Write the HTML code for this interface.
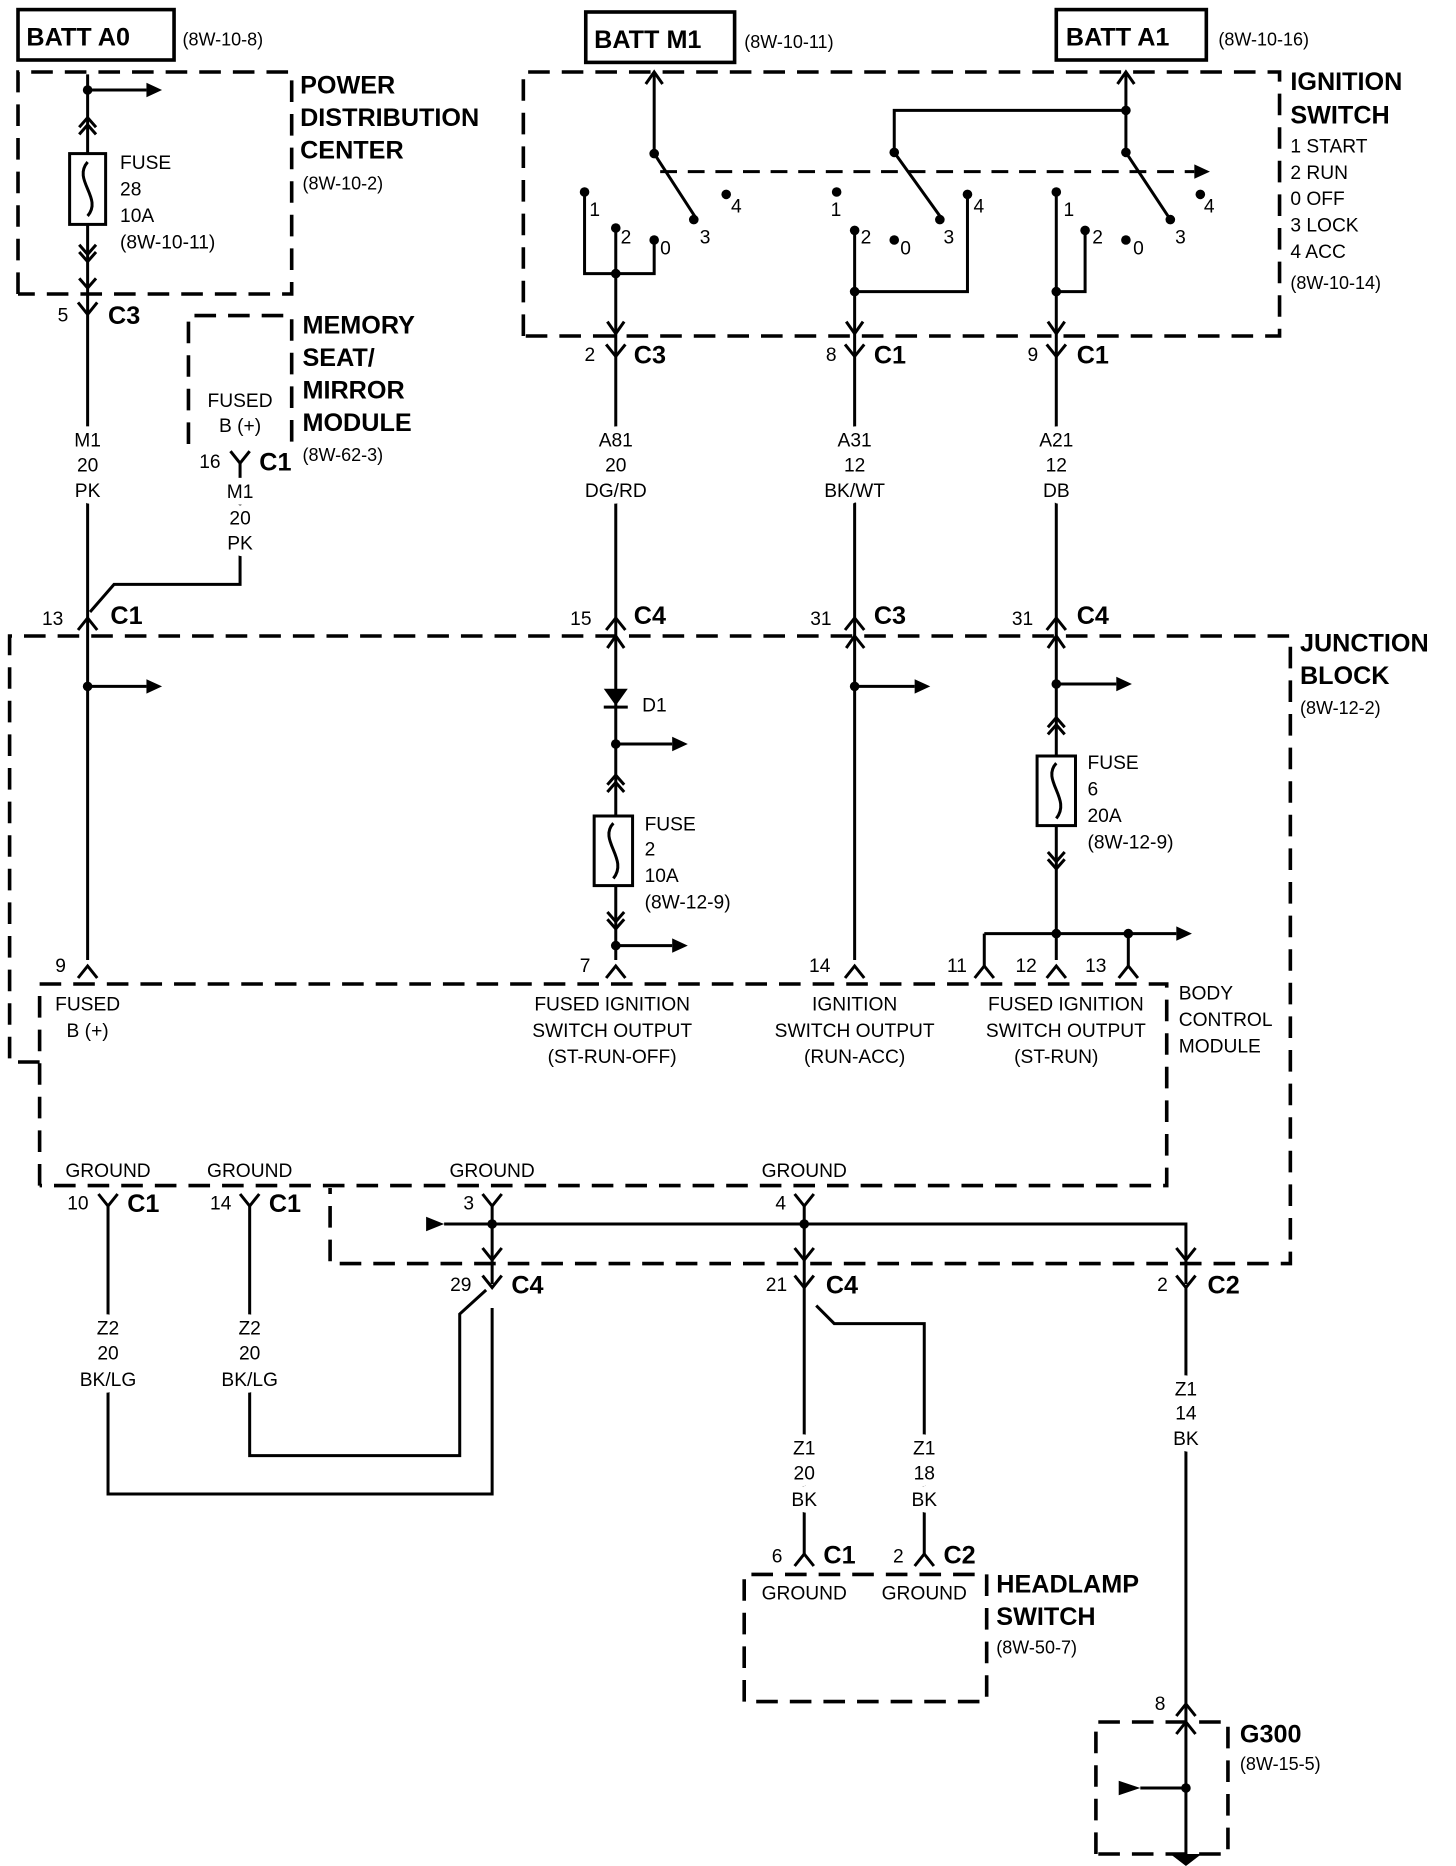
<!DOCTYPE html>
<html><head><meta charset="utf-8"><style>
html,body{margin:0;padding:0;background:#fff}
svg{display:block}
text{font-family:"Liberation Sans Narrow","Liberation Sans",sans-serif;fill:#000}
.b{font-weight:bold;font-size:21px}
.s{font-size:15px}
.m{font-size:16px}
.c{text-anchor:middle}
.w{stroke:#fff;stroke-width:11px;paint-order:stroke;stroke-linejoin:round}
</style></head><body>
<svg width="1456" height="1866" viewBox="0 0 1213 1555" preserveAspectRatio="none" xmlns="http://www.w3.org/2000/svg">
<g fill="none" stroke="#000" stroke-width="2.5">
<rect x="15" y="8" width="130" height="42" stroke-width="3"/>
<rect x="488" y="10" width="124" height="42" stroke-width="3"/>
<rect x="880" y="8" width="125" height="42" stroke-width="3"/>
<g stroke-dasharray="18,10" stroke-width="3">
<path d="M15 245 V60 H243 V245 H15"/>
<path d="M157 370 V263 H243 V370"/>
<path d="M436 280 V60 H1066 V280 H436"/>
<path d="M33 885 H8 V530 H1075 V1053 H275 V990"/>
<path d="M33 988 V820 H972 V988 H33"/>
<path d="M620 1418 V1312 H822 V1418 H620"/>
<path d="M913 1545 V1435 H1023 V1545 H913"/>
</g>
<path d="M73 62 V800"/>
<path d="M73 75 H122"/>
<rect x="58" y="128" width="30" height="59" fill="#fff"/>
<path d="M73 135 C60 150 86 165 73 180"/>
<path d="M66 106 L73 98 L80 106 M66 112 L73 104 L80 112"/>
<path d="M66 204 L73 212 L80 204 M66 210 L73 218 L80 210"/>
<path d="M66 232 L73 240 L80 232"/>
<path d="M65 252 L73 262 L81 252"/>
<path d="M192 376 L200 386 L208 376"/>
<path d="M200 386 V487 H95 L75 510"/>
<path d="M65 525 L73 515 L81 525"/>
<path d="M545 60 V128 L580 182"/>
<path d="M538 70 L545 60 L552 70"/>
<path d="M550 143 H995" stroke-dasharray="14,9"/>
<path d="M938 60 V127 L975 183"/>
<path d="M931 70 L938 60 L945 70"/>
<path d="M938 92 H745 V127 L783 180"/>
<path d="M487 160 V228 H545 V200"/>
<path d="M513 190 V297"/>
<path d="M712 192 V297"/>
<path d="M712 243 H806 V162"/>
<path d="M880 160 V297"/>
<path d="M880 243 H904 V192"/>
<path d="M506 268 L513 278 L520 268 M705 268 L712 278 L719 268 M873 268 L880 278 L887 268"/>
<path d="M505 287 L513 297 L521 287 M704 287 L712 297 L720 287 M872 287 L880 297 L888 287"/>
<path d="M513 297 V800 M712 297 V800 M880 297 V800"/>
<path d="M505 525 L513 515 L521 525 M704 525 L712 515 L720 525 M872 525 L880 515 L888 525"/>
<path d="M506 540 L513 530 L520 540 M705 540 L712 530 L720 540 M873 540 L880 530 L887 540"/>
<path d="M73 572 H122 M712 572 H762 M880 570 H930 M513 620 H560 M513 788 H560 M820 778 H980"/>
<path d="M820 778 V805 M940 778 V805"/>
<rect x="495" y="680" width="32" height="58" fill="#fff"/>
<path d="M511 686 C498 700 524 716 511 732"/>
<rect x="864" y="630" width="32" height="58" fill="#fff"/>
<path d="M880 636 C867 650 893 666 880 682"/>
<path d="M506 654 L513 646 L520 654 M506 660 L513 652 L520 660 M506 760 L513 768 L520 760 M506 766 L513 774 L520 766"/>
<path d="M873 606 L880 598 L887 606 M873 612 L880 604 L887 612 M873 710 L880 718 L887 710 M873 716 L880 724 L887 716"/>
<path d="M65 815 L73 805 L81 815 M505 815 L513 805 L521 815 M704 815 L712 805 L720 815 M812 815 L820 805 L828 815 M872 815 L880 805 L888 815 M932 815 L940 805 L948 815"/>
<path d="M82 995 L90 1005 L98 995 M200 995 L208 1005 L216 995 M402 995 L410 1005 L418 995 M662 995 L670 1005 L678 995"/>
<path d="M90 1005 V1245 H410 V1090 M208 1005 V1213 H383 V1095 L405 1075"/>
<path d="M410 1005 V1070 M670 1005 V1295 M370 1020 H988 V1070"/>
<path d="M402 1040 L410 1050 L418 1040 M662 1040 L670 1050 L678 1040 M980 1040 L988 1050 L996 1040"/>
<path d="M402 1063 L410 1073 L418 1063 M662 1063 L670 1073 L678 1063 M980 1063 L988 1073 L996 1063"/>
<path d="M680 1088 L695 1103 H770 V1295"/>
<path d="M988 1073 V1545"/>
<path d="M662 1305 L670 1295 L678 1305 M762 1305 L770 1295 L778 1305 M980 1430 L988 1420 L996 1430 M980 1445 L988 1435 L996 1445"/>
<path d="M950 1490 H988"/>
</g>
<g fill="#000">
<path d="M122 69 L135 75 L122 81Z M122 566 L135 572 L122 578Z M762 566 L775 572 L762 578Z M930 564 L943 570 L930 576Z M560 614 L573 620 L560 626Z M560 782 L573 788 L560 794Z M980 772 L993 778 L980 784Z M995 137 L1008 143 L995 149Z M355 1014 L370 1020 L355 1026Z M932 1484 L950 1490 L932 1496Z"/>
<path d="M503 574 H523 L513 588Z"/><rect x="503" y="588" width="20" height="2.5"/>
<path d="M975 1545 H1001 L988 1555Z"/>
<circle cx="73" cy="75" r="4"/><circle cx="73" cy="572" r="4"/>
<circle cx="545" cy="128" r="4"/><circle cx="938" cy="92" r="4"/><circle cx="745" cy="127" r="4"/><circle cx="938" cy="127" r="4"/>
<circle cx="487" cy="160" r="4"/><circle cx="513" cy="190" r="4"/><circle cx="545" cy="200" r="4"/><circle cx="578" cy="183" r="4"/><circle cx="605" cy="162" r="4"/><circle cx="513" cy="228" r="4"/>
<circle cx="697" cy="160" r="4"/><circle cx="712" cy="192" r="4"/><circle cx="745" cy="200" r="4"/><circle cx="783" cy="183" r="4"/><circle cx="806" cy="162" r="4"/><circle cx="712" cy="243" r="4"/>
<circle cx="880" cy="160" r="4"/><circle cx="904" cy="192" r="4"/><circle cx="938" cy="200" r="4"/><circle cx="975" cy="183" r="4"/><circle cx="1000" cy="162" r="4"/><circle cx="880" cy="243" r="4"/>
<circle cx="712" cy="572" r="4"/><circle cx="880" cy="570" r="4"/><circle cx="513" cy="620" r="4"/><circle cx="513" cy="788" r="4"/><circle cx="880" cy="778" r="4"/><circle cx="940" cy="778" r="4"/>
<circle cx="410" cy="1020" r="4"/><circle cx="670" cy="1020" r="4"/><circle cx="988" cy="1490" r="4"/>
</g>
<text class="b" x="22" y="38">BATT A0</text><text class="s" x="152" y="38">(8W-10-8)</text>
<text class="b" x="495" y="40">BATT M1</text><text class="s" x="620" y="40">(8W-10-11)</text>
<text class="b" x="888" y="38">BATT A1</text><text class="s" x="1015" y="38">(8W-10-16)</text>
<text class="b" x="250" y="78">POWER</text><text class="b" x="250" y="105">DISTRIBUTION</text><text class="b" x="250" y="132">CENTER</text><text class="s" x="252" y="158">(8W-10-2)</text>
<text class="m" x="100" y="141">FUSE</text><text class="m" x="100" y="163">28</text><text class="m" x="100" y="185">10A</text><text class="m" x="100" y="207">(8W-10-11)</text>
<text class="m" x="48" y="268">5</text><text class="b" x="90" y="270">C3</text>
<text class="b" x="252" y="278">MEMORY</text><text class="b" x="252" y="305">SEAT/</text><text class="b" x="252" y="332">MIRROR</text><text class="b" x="252" y="359">MODULE</text><text class="s" x="252" y="384">(8W-62-3)</text>
<text class="m c" x="200" y="339">FUSED</text><text class="m c" x="200" y="360">B (+)</text>
<text class="m" x="166" y="390">16</text><text class="b" x="216" y="392">C1</text>
<text class="m c w" x="73" y="372">M1</text><text class="m c w" x="73" y="393">20</text><text class="m c w" x="73" y="414">PK</text>
<text class="m c w" x="200" y="415">M1</text><text class="m c w" x="200" y="437">20</text><text class="m c w" x="200" y="458">PK</text>
<text class="m" x="35" y="521">13</text><text class="b" x="92" y="520">C1</text>
<text class="b" x="1075" y="75">IGNITION</text><text class="b" x="1075" y="103">SWITCH</text>
<text class="m" x="1075" y="127">1 START</text><text class="m" x="1075" y="149">2 RUN</text><text class="m" x="1075" y="171">0 OFF</text><text class="m" x="1075" y="193">3 LOCK</text><text class="m" x="1075" y="215">4 ACC</text><text class="s" x="1075" y="241">(8W-10-14)</text>
<text class="m" x="491" y="180">1</text><text class="m" x="517" y="203">2</text><text class="m" x="550" y="212">0</text><text class="m" x="583" y="203">3</text><text class="m" x="609" y="177">4</text>
<text class="m" x="692" y="180">1</text><text class="m" x="717" y="203">2</text><text class="m" x="750" y="212">0</text><text class="m" x="786" y="203">3</text><text class="m" x="811" y="177">4</text>
<text class="m" x="886" y="180">1</text><text class="m" x="910" y="203">2</text><text class="m" x="944" y="212">0</text><text class="m" x="979" y="203">3</text><text class="m" x="1003" y="177">4</text>
<text class="m" x="487" y="301">2</text><text class="b" x="528" y="303">C3</text>
<text class="m" x="688" y="301">8</text><text class="b" x="728" y="303">C1</text>
<text class="m" x="856" y="301">9</text><text class="b" x="897" y="303">C1</text>
<text class="m c w" x="513" y="372">A81</text><text class="m c w" x="513" y="393">20</text><text class="m c w" x="513" y="414">DG/RD</text>
<text class="m c w" x="712" y="372">A31</text><text class="m c w" x="712" y="393">12</text><text class="m c w" x="712" y="414">BK/WT</text>
<text class="m c w" x="880" y="372">A21</text><text class="m c w" x="880" y="393">12</text><text class="m c w" x="880" y="414">DB</text>
<text class="m" x="475" y="521">15</text><text class="b" x="528" y="520">C4</text>
<text class="m" x="675" y="521">31</text><text class="b" x="728" y="520">C3</text>
<text class="m" x="843" y="521">31</text><text class="b" x="897" y="520">C4</text>
<text class="b" x="1083" y="543">JUNCTION</text><text class="b" x="1083" y="570">BLOCK</text><text class="s" x="1083" y="595">(8W-12-2)</text>
<text class="m" x="535" y="593">D1</text>
<text class="m" x="537" y="692">FUSE</text><text class="m" x="537" y="713">2</text><text class="m" x="537" y="735">10A</text><text class="m" x="537" y="757">(8W-12-9)</text>
<text class="m" x="906" y="641">FUSE</text><text class="m" x="906" y="663">6</text><text class="m" x="906" y="685">20A</text><text class="m" x="906" y="707">(8W-12-9)</text>
<text class="m" x="46" y="810">9</text><text class="m" x="483" y="810">7</text><text class="m" x="674" y="810">14</text><text class="m" x="789" y="810">11</text><text class="m" x="846" y="810">12</text><text class="m" x="904" y="810">13</text>
<text class="m c" x="73" y="842">FUSED</text><text class="m c" x="73" y="864">B (+)</text>
<text class="m c" x="510" y="842">FUSED IGNITION</text><text class="m c" x="510" y="864">SWITCH OUTPUT</text><text class="m c" x="510" y="886">(ST-RUN-OFF)</text>
<text class="m c" x="712" y="842">IGNITION</text><text class="m c" x="712" y="864">SWITCH OUTPUT</text><text class="m c" x="712" y="886">(RUN-ACC)</text>
<text class="m c" x="888" y="842">FUSED IGNITION</text><text class="m c" x="888" y="864">SWITCH OUTPUT</text><text class="m c" x="880" y="886">(ST-RUN)</text>
<text class="m" x="982" y="833">BODY</text><text class="m" x="982" y="855">CONTROL</text><text class="m" x="982" y="877">MODULE</text>
<text class="m c" x="90" y="981">GROUND</text><text class="m c" x="208" y="981">GROUND</text><text class="m c" x="410" y="981">GROUND</text><text class="m c" x="670" y="981">GROUND</text>
<text class="m" x="56" y="1008">10</text><text class="b" x="106" y="1010">C1</text>
<text class="m" x="175" y="1008">14</text><text class="b" x="224" y="1010">C1</text>
<text class="m" x="386" y="1008">3</text><text class="m" x="646" y="1008">4</text>
<text class="m" x="375" y="1076">29</text><text class="b" x="426" y="1078">C4</text>
<text class="m" x="638" y="1076">21</text><text class="b" x="688" y="1078">C4</text>
<text class="m" x="964" y="1076">2</text><text class="b" x="1006" y="1078">C2</text>
<text class="m c w" x="90" y="1112">Z2</text><text class="m c w" x="90" y="1133">20</text><text class="m c w" x="90" y="1155">BK/LG</text>
<text class="m c w" x="208" y="1112">Z2</text><text class="m c w" x="208" y="1133">20</text><text class="m c w" x="208" y="1155">BK/LG</text>
<text class="m c w" x="670" y="1212">Z1</text><text class="m c w" x="670" y="1233">20</text><text class="m c w" x="670" y="1255">BK</text>
<text class="m c w" x="770" y="1212">Z1</text><text class="m c w" x="770" y="1233">18</text><text class="m c w" x="770" y="1255">BK</text>
<text class="m c w" x="988" y="1163">Z1</text><text class="m c w" x="988" y="1183">14</text><text class="m c w" x="988" y="1204">BK</text>
<text class="m" x="643" y="1302">6</text><text class="b" x="686" y="1303">C1</text>
<text class="m" x="744" y="1302">2</text><text class="b" x="786" y="1303">C2</text>
<text class="m c" x="670" y="1333">GROUND</text><text class="m c" x="770" y="1333">GROUND</text>
<text class="b" x="830" y="1327">HEADLAMP</text><text class="b" x="830" y="1354">SWITCH</text><text class="s" x="830" y="1378">(8W-50-7)</text>
<text class="m" x="962" y="1425">8</text>
<text class="b" x="1033" y="1452">G300</text><text class="s" x="1033" y="1475">(8W-15-5)</text>
</svg>
</body></html>
